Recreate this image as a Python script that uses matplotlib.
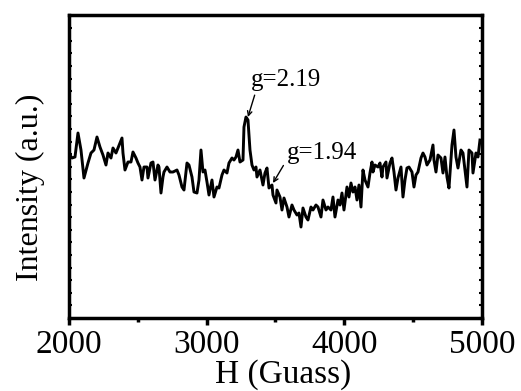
import matplotlib.pyplot as plt
from matplotlib.ticker import MultipleLocator

# trace, in picture pixels, then turned into Gauss / a.u.
trace_x = [68, 72, 75, 78, 81, 84, 88, 91, 94, 97, 100, 103, 106, 108, 111, 113, 116, 118, 122, 123, 125,
           128, 131, 133, 136, 138, 140, 142, 144, 147, 148, 151, 153, 155, 158, 159, 161, 163, 164, 167,
           170, 173, 177, 179, 182, 184, 187, 189, 192, 194, 197, 199, 201, 203, 205, 207, 209, 212, 214,
           217, 219, 222, 224, 227, 229, 232, 234, 236, 238, 240, 243, 244, 246, 248, 250, 252, 254, 256,
           257, 260, 263, 265, 267, 269, 272, 273, 276, 277, 280, 282, 284, 287, 289, 292, 294, 297, 299,
           301, 303, 306, 308, 311, 313, 316, 318, 321, 323, 326, 328, 331, 333, 335, 338, 340, 342, 344,
           347, 349, 351, 353, 355, 357, 359, 361, 363, 365, 368, 370, 372, 373, 375, 378, 380, 382, 383,
           386, 387, 390, 392, 394, 396, 398, 401, 403, 405, 407, 409, 412, 414, 416, 418, 421, 423, 425,
           427, 430, 433, 434, 436, 438, 441, 443, 445, 447, 449, 452, 454, 456, 458, 461, 463, 465, 467,
           469, 472, 473, 476, 478, 480]
trace_y = [152, 158, 157, 133, 150, 178, 163, 153, 150, 137, 147, 155, 165, 153, 158, 148, 153, 148, 138,
           153, 170, 162, 162, 152, 158, 163, 167, 180, 167, 167, 178, 163, 162, 180, 165, 167, 193, 177,
           172, 167, 172, 172, 170, 175, 187, 190, 163, 165, 177, 192, 193, 180, 150, 172, 170, 182, 195,
           180, 197, 187, 188, 175, 170, 173, 163, 158, 160, 157, 150, 162, 160, 127, 117, 120, 150, 165,
           170, 167, 177, 170, 185, 173, 168, 188, 185, 195, 203, 190, 197, 210, 198, 207, 217, 205, 210,
           215, 213, 227, 208, 217, 220, 207, 210, 205, 207, 217, 200, 210, 207, 210, 197, 217, 200, 205,
           193, 210, 187, 197, 183, 192, 187, 200, 185, 207, 170, 180, 187, 173, 162, 172, 165, 167, 163,
           177, 167, 162, 178, 163, 158, 172, 190, 178, 167, 197, 180, 168, 167, 172, 187, 175, 172, 158,
           153, 157, 165, 160, 145, 160, 172, 155, 158, 173, 157, 177, 188, 145, 130, 157, 168, 150, 153,
           170, 187, 150, 153, 173, 153, 157, 140]
field = [2000 + (x - 69) / 413 * 3000 for x in trace_x]
intensity = [318 - y for y in trace_y]

xticks = [2000, 3000, 4000, 5000]

plt.rcParams['font.family'] = ['Liberation Serif', 'DejaVu Serif']

fig = plt.figure(figsize=(5.21, 3.91), dpi=100)
ax = fig.add_axes([0.1324, 0.1867, 0.7927, 0.7749])
ax.plot(field, intensity, color='black', lw=2.1)

ax.set_xlim(2000, 5000)
ax.set_ylim(0, 303)
ax.set_xticks(xticks)
ax.xaxis.set_minor_locator(MultipleLocator(500))
ax.yaxis.set_major_locator(MultipleLocator(12.6))
ax.set_yticklabels([])
ax.tick_params(axis='x', which='major', direction='out', length=5, width=2.5, labelsize=24, pad=3)
ax.tick_params(axis='x', which='minor', direction='out', length=3, width=2.5)
ax.tick_params(axis='y', which='major', direction='in', length=2, width=1.5, right=True)
for s in ax.spines.values():
    s.set_linewidth(2.5)

ax.set_xlabel('H (Guass)', fontsize=24)
ax.xaxis.set_label_coords(0.518, -0.135)
ax.set_ylabel('Intensity (a.u.)', fontsize=23)
ax.yaxis.set_label_coords(-0.058, 0.432)

ax.annotate('g=2.19', xy=(3300, 201), xytext=(3322, 238), fontsize=18,
            va='center', ha='left',
            arrowprops=dict(arrowstyle='->', color='black', lw=1, shrinkA=1, shrinkB=0,
                            relpos=(0.08, 0.1), mutation_scale=8))
ax.annotate('g=1.94', xy=(3482, 135), xytext=(3583, 165), fontsize=18,
            va='center', ha='left',
            arrowprops=dict(arrowstyle='->', color='black', lw=1, shrinkA=1, shrinkB=0,
                            relpos=(0.0, 0.2), mutation_scale=8))

fig.savefig('out.png', dpi=100)
